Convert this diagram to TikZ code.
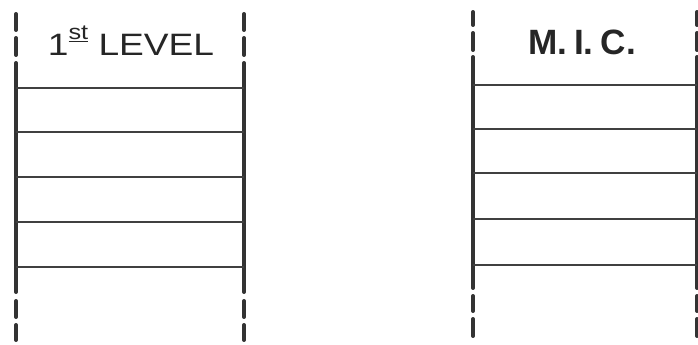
\documentclass[tikz,border=0pt]{standalone}
\usepackage{fontspec}
\setmainfont{Liberation Sans}

\begin{document}
\begin{tikzpicture}[
  x=0.025cm, y=-0.025cm,
  rail/.style={line width=2.8pt, line cap=round, black!80},
  rung/.style={line width=2pt, black!75},
  title/.style={inner sep=0pt, anchor=base, black!85}
]
  \useasboundingbox (0,0) rectangle (698,344);

  % first level ladder
  \foreach \x in {16,244} {
    \draw[rail] (\x,14) -- (\x,30) (\x,38) -- (\x,55) (\x,63) -- (\x,292)
      (\x,301) -- (\x,317) (\x,325) -- (\x,340);
  }
  \foreach \y in {88,132,177,222,267}
    \draw[rung] (16,\y) -- (244,\y);
  \node[title, font=\fontsize{22}{24}\selectfont] (lvl) at (131,55)
    {\scalebox{1.2}[1]{1\raisebox{0.5em}{\fontsize{15}{16}\selectfont\underline{st}}\ LEVEL}};

  % M.I.C. ladder
  \foreach \x in {473,697} {
    \draw[rail] (\x,12) -- (\x,25) (\x,33) -- (\x,50) (\x,57) -- (\x,288)
      (\x,296) -- (\x,311) (\x,319) -- (\x,336);
  }
  \foreach \y in {85,129,173,219,265}
    \draw[rung] (473,\y) -- (697,\y);
  \node[title, font=\bfseries\fontsize{25}{28}\selectfont] (mic) at (582,54)
    {M.\kern0.2em I.\kern0.2em C.};
\end{tikzpicture}
\end{document}
